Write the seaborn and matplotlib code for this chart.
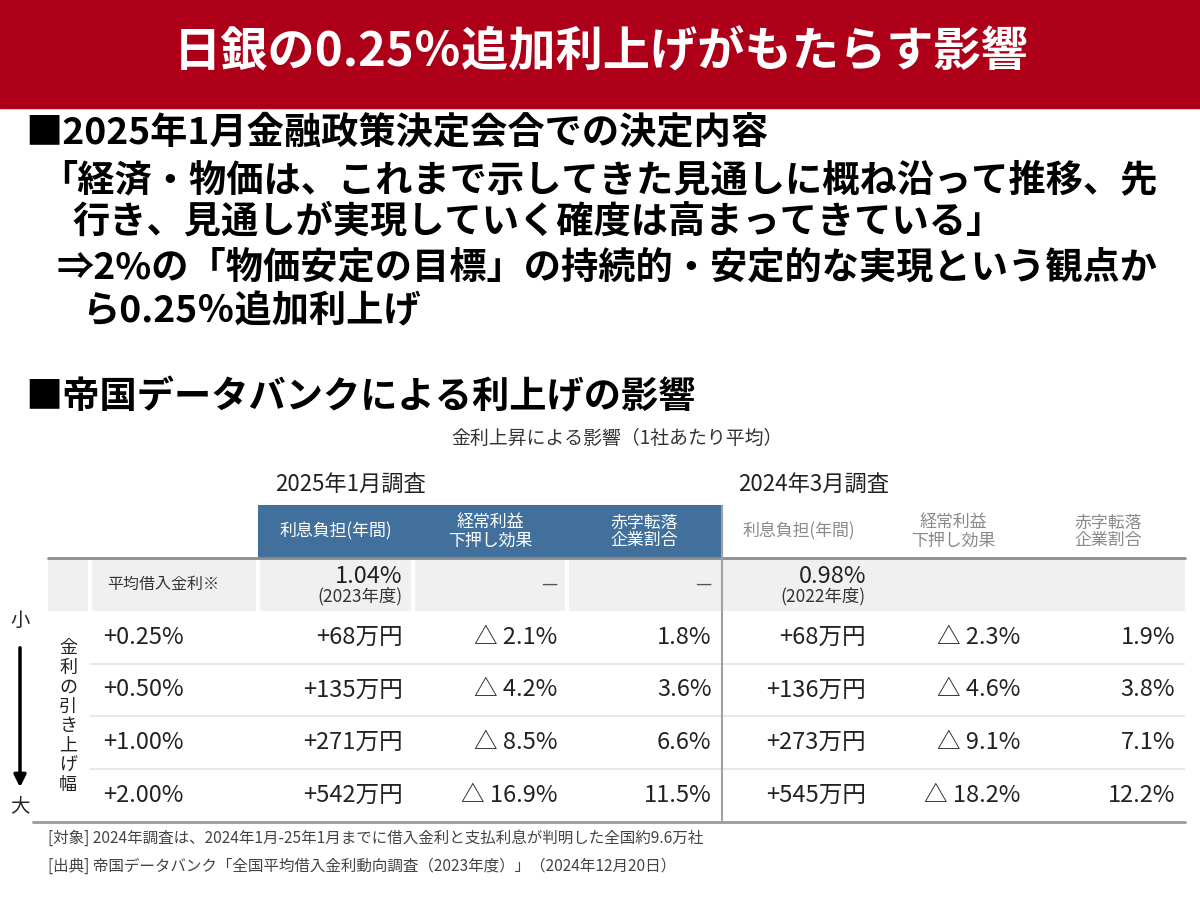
import numpy as np
import matplotlib.pyplot as plt
from matplotlib.colors import ListedColormap
from matplotlib.patches import Rectangle
import seaborn as sns

# slide texts
title = '日銀の0.25％追加利上げがもたらす影響'
body_lines = [
    '■2025年1月金融政策決定会合での決定内容',
    '「経済・物価は、これまで示してきた見通しに概ね沿って推移、先',
    '行き、見通しが実現していく確度は高まってきている」',
    '⇒2%の「物価安定の目標」の持続的・安定的な実現という観点か',
    'ら0.25％追加利上げ',
]
section2 = '■帝国データバンクによる利上げの影響'
table_title = '金利上昇による影響（1社あたり平均）'
surveys = ['2025年1月調査', '2024年3月調査']
col_heads = ['利息負担(年間)', '経常利益\n下押し効果', '赤字転落\n企業割合']
row_head = '平均借入金利※'
notes = ['[対象] 2024年調査は、2024年1月-25年1月までに借入金利と支払利息が判明した全国約9.6万社',
         '[出典] 帝国データバンク「全国平均借入金利動向調査（2023年度）」（2024年12月20日）']

# table data
hikes = ['+0.25%', '+0.50%', '+1.00%', '+2.00%']
burden_2025 = [68, 135, 271, 542]
profit_2025 = [2.1, 4.2, 8.5, 16.9]
deficit_2025 = [1.8, 3.6, 6.6, 11.5]
burden_2024 = [68, 136, 273, 545]
profit_2024 = [2.3, 4.6, 9.1, 18.2]
deficit_2024 = [1.9, 3.8, 7.1, 12.2]
avg_rate = [1.04, 0.98]
avg_year = ['2023年度', '2022年度']

sns.set_theme(style='white')
plt.rcParams['font.family'] = ['Noto Sans CJK JP', 'DejaVu Sans']

W, H = 1200, 900
fig = plt.figure(figsize=(12, 9), dpi=100)
fx = lambda x: x / W
fy = lambda y: 1 - y / H

# title bar
fig.patches.append(Rectangle((0, fy(108)), 1, 108 / H, transform=fig.transFigure,
                             color='#ad0018', zorder=0))
fig.text(fx(601), fy(52), title, color='white', fontsize=34, fontweight='bold',
         ha='center', va='center')

body_x = [25, 40, 72, 57, 82]
body_y = [133, 181, 222, 268, 312]
for s, x, y in zip(body_lines, body_x, body_y):
    fig.text(fx(x), fy(y), s, fontsize=26.8, fontweight='bold', color='black',
             ha='left', va='center')
fig.text(fx(25), fy(398), section2, fontsize=26.8, fontweight='bold', color='black',
         ha='left', va='center')
fig.text(fx(617), fy(438), table_title, fontsize=13.6, color='#333333',
         ha='center', va='center')

# table: 6 uniform value columns drawn as a heatmap, label columns on the left
left_px, right_px, top_px, bot_px = 48, 1185, 505, 822
ax = fig.add_axes([fx(left_px), fy(bot_px), (right_px - left_px) / W, (bot_px - top_px) / H])
codes = np.zeros((6, 6))
codes[0, :3] = 2
codes[1, :] = 1
sns.heatmap(codes, cmap=ListedColormap(['white', '#f0f0f0', '#41709c']), vmin=0, vmax=2,
            cbar=False, xticklabels=False, yticklabels=False, ax=ax)
x0 = -1.36
ax.set_xlim(x0, 6)
ax.set_ylim(6, 0)
ax.axis('off')

ax.add_patch(Rectangle((x0, 1), -x0, 1, color='#f0f0f0', lw=0))
for u in [-1.087, 0, 1, 2]:
    ax.plot([u, u], [1.05, 2], color='white', lw=3)
for v in [3, 4, 5]:
    ax.plot([-1.087, 6], [v, v], color='#e4e4e4', lw=1.2)
ax.plot([x0, 6], [1, 1], color='#8c8c8c', lw=2, clip_on=False)
ax.plot([-1.46, 6], [6, 6], color='#9a9a9a', lw=2, clip_on=False)
ax.plot([3, 3], [0, 6], color='#a0a0a0', lw=1.5)

# headers
for k, s in enumerate(surveys):
    ax.text(k * 3 + 0.11, -0.4, s, fontsize=16, color='#222222', ha='left', va='center')
    for j, h in enumerate(col_heads):
        ax.text(k * 3 + j + 0.5, 0.5, h, fontsize=12.2, linespacing=1.0,
                color='white' if k == 0 else '#8a8a8a', ha='center', va='center')

# average rate row
ax.text(-0.98, 1.5, row_head, fontsize=11.5, color='#333333', ha='left', va='center')
for k in range(2):
    ax.text(k * 3 + 0.935, 1.36, f'{avg_rate[k]:.2f}%', fontsize=17, color='#222222',
            ha='right', va='center')
    ax.text(k * 3 + 0.935, 1.72, f'({avg_year[k]})', fontsize=12.5, color='#333333',
            ha='right', va='center')
for j in [1, 2]:
    ax.text(j + 0.935, 1.5, '—', fontsize=13, color='#555555', ha='right', va='center')

# value rows
columns = [
    [f'+{v}万円' for v in burden_2025],
    [f'△ {v}%' for v in profit_2025],
    [f'{v}%' for v in deficit_2025],
    [f'+{v}万円' for v in burden_2024],
    [f'△ {v}%' for v in profit_2024],
    [f'{v}%' for v in deficit_2024],
]
for i, h in enumerate(hikes):
    ax.text(-1.0, i + 2.5, h, fontsize=17, color='#222222', ha='left', va='center')
    for j, col in enumerate(columns):
        ax.text(j + 0.935, i + 2.5, col[i], fontsize=17, color='#222222',
                ha='right', va='center')

# left scale arrow and vertical label
fig.text(fx(20), fy(620), '小', fontsize=14, ha='center', va='center')
fig.text(fx(20), fy(806), '大', fontsize=14, ha='center', va='center')
ax.annotate('', xy=(fx(20), fy(790)), xytext=(fx(20), fy(645)),
            xycoords=fig.transFigure, textcoords=fig.transFigure,
            arrowprops=dict(arrowstyle='-|>', color='black', lw=2.5, mutation_scale=18))
for n, ch in enumerate('金利の引き上げ幅'):
    fig.text(fx(68), fy(648 + n * 19.6), ch, fontsize=13, color='#222222',
             ha='center', va='center')

for n, s in enumerate(notes):
    fig.text(fx(48), fy(838 + n * 28), s, fontsize=11.2, color='#444444',
             ha='left', va='center')

fig.savefig('out.png', dpi=100)
